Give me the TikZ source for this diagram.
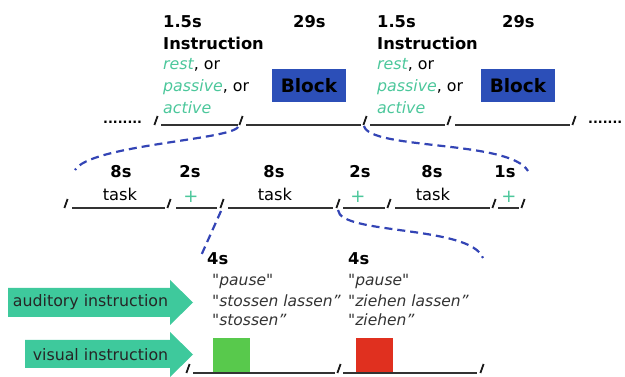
\documentclass[tikz,border=0pt]{standalone}
\usepackage{fontspec}
\setmainfont{DejaVu Sans}
\newfontfamily\qfont{DejaVu Sans}
\definecolor{tealtxt}{HTML}{4CC79B}
\definecolor{arrowg}{HTML}{3EC99C}
\definecolor{dblue}{HTML}{3344B5}
\definecolor{blockb}{HTML}{2C4FB8}
\definecolor{sqgreen}{HTML}{58C94C}
\definecolor{sqred}{HTML}{E0301F}
\newcommand\tlslash[2]{\draw[slashln] ({#1-1.6},#2) -- ({#1+1.6},{#2-9});}
\begin{document}
\begin{tikzpicture}[x=1pt,y=-1pt,
  tline/.style={draw=black!80,line width=1.1pt},
  slashln/.style={draw=black!90,line width=1.8pt},
  bt/.style={font=\fontsize{16.3}{18}\selectfont\bfseries,inner sep=0pt,anchor=base west},
  btc/.style={font=\fontsize{16.3}{18}\selectfont\bfseries,inner sep=0pt,anchor=base},
  rt/.style={font=\fontsize{15.8}{18}\selectfont,inner sep=0pt,anchor=base west},
  rtc/.style={font=\fontsize{16.3}{18}\selectfont,inner sep=0pt,anchor=base},
  qt/.style={font=\fontsize{15.5}{18}\selectfont\qfont\itshape,text=black!80,inner sep=0pt,anchor=base west},
  plussign/.style={font=\fontsize{18}{18}\selectfont,text=tealtxt,inner sep=0pt},
  blockbox/.style={fill=blockb,minimum width=74pt,minimum height=33pt,inner sep=0pt,font=\fontsize{18.5}{20}\selectfont\bfseries},
  dotsty/.style={font=\fontsize{12.8}{14}\selectfont\bfseries,inner sep=0pt,anchor=base west},
  dsh/.style={draw=dblue,line width=2.2pt,dash pattern=on 8pt off 5pt},
  garrow/.style={fill=arrowg,draw=none},
  arrtxt/.style={font=\fontsize{15.8}{18}\selectfont,text=black!85,inner sep=0pt}
]
\useasboundingbox (0,0) rectangle (625,377);

% ---------- row 1 ----------
\node[dotsty] (dotsl) at (103,124) {........};
\node[dotsty] (dotsr) at (588,124) {.......};
\tlslash{156}{125}
\draw[tline] (161,125) -- (238,125);
\tlslash{241}{125}
\draw[tline] (246,125) -- (361,125);
\tlslash{365}{125}
\draw[tline] (370,125) -- (445,125);
\tlslash{449}{125}
\draw[tline] (455,125) -- (570,125);
\tlslash{574}{125}

\node[bt] (t15a) at (163,28) {1.5s};
\node[bt] (t29a) at (293,28) {29s};
\node[bt] (insa) at (163,50) {Instruction};
\node[rt] (resta) at (163,70) {\textcolor{tealtxt}{\itshape rest}, or};
\node[rt] (passa) at (163,92) {\textcolor{tealtxt}{\itshape passive}, or};
\node[rt] (acta) at (163,114) {\textcolor{tealtxt}{\itshape active}};
\node[blockbox] (blka) at (309,85.5) {Block};

\node[bt] (t15b) at (377,28) {1.5s};
\node[bt] (t29b) at (502,28) {29s};
\node[bt] (insb) at (377,50) {Instruction};
\node[rt] (restb) at (377,70) {\textcolor{tealtxt}{\itshape rest}, or};
\node[rt] (passb) at (377,92) {\textcolor{tealtxt}{\itshape passive}, or};
\node[rt] (actb) at (377,114) {\textcolor{tealtxt}{\itshape active}};
\node[blockbox] (blkb) at (518,85.5) {Block};

% ---------- row 2 ----------
\tlslash{66}{208}
\draw[tline] (72,208) -- (165,208);
\tlslash{169}{208}
\draw[tline] (176,208) -- (217,208);
\tlslash{222}{208}
\draw[tline] (228,208) -- (333,208);
\tlslash{338}{208}
\draw[tline] (343,208) -- (385,208);
\tlslash{389}{208}
\draw[tline] (395,208) -- (490,208);
\tlslash{494}{208}
\draw[tline] (498,208) -- (519,208);
\tlslash{523}{208}

\node[btc] (s8a) at (121,178) {8s};
\node[rtc] (taska) at (120,201) {task};
\node[btc] (s2a) at (190,178) {2s};
\node[plussign] (plusa) at (191,197) {+};
\node[btc] (s8b) at (274,178) {8s};
\node[rtc] (taskb) at (275,201) {task};
\node[btc] (s2b) at (360,178) {2s};
\node[plussign] (plusb) at (358,197) {+};
\node[btc] (s8c) at (432,178) {8s};
\node[rtc] (taskc) at (433,201) {task};
\node[btc] (s1) at (505,178) {1s};
\node[plussign] (plusc) at (509,197) {+};

% ---------- row 3 ----------
\tlslash{188}{373}
\draw[tline] (193,373) -- (335,373);
\tlslash{339}{373}
\draw[tline] (343,373) -- (477,373);
\tlslash{482}{373}

\node[bt] (s4a) at (207,265) {4s};
\node[qt] (qa1) at (212,286) {"pause"};
\node[qt] (qa2) at (212,307) {"stossen lassen”};
\node[qt] (qa3) at (212,326) {"stossen”};
\node[bt] (s4b) at (348,265) {4s};
\node[qt] (qb1) at (348,286) {"pause"};
\node[qt] (qb2) at (348,307) {"ziehen lassen”};
\node[qt] (qb3) at (348,326) {"ziehen”};

\fill[sqgreen] (213,338) rectangle (250,372);
\fill[sqred] (356,338) rectangle (393,372);

% ---------- arrows ----------
\fill[garrow] (8,288) -- (170,288) -- (170,280) -- (193,302.5) -- (170,325) -- (170,317) -- (8,317) -- cycle;
\fill[garrow] (25,340) -- (170,340) -- (170,332) -- (193,354.5) -- (170,377) -- (170,368) -- (25,368) -- cycle;
\node[arrtxt] (aud) at (90.5,302.5) {auditory instruction};
\node[arrtxt] (vis) at (100.5,354.5) {visual instruction};

% ---------- dashed zoom connectors ----------
\coordinate (c1s) at (238,127);
\coordinate (c1e) at (75,170);
\coordinate (c2s) at (364,126);
\coordinate (c2e) at (528,171);
\coordinate (c3s) at (221,211);
\coordinate (c3e) at (200,258);
\coordinate (c4s) at (338,210);
\coordinate (c4e) at (483,258);
\draw[dsh] (c1s) .. controls (230,140) and (90,145) .. (c1e);
\draw[dsh] (c2s) .. controls (370,150) and (510,140) .. (c2e);
\draw[dsh] (c3s) -- (c3e);
\draw[dsh] (c4s) .. controls (340,235) and (470,225) .. (c4e);
\end{tikzpicture}
\end{document}
